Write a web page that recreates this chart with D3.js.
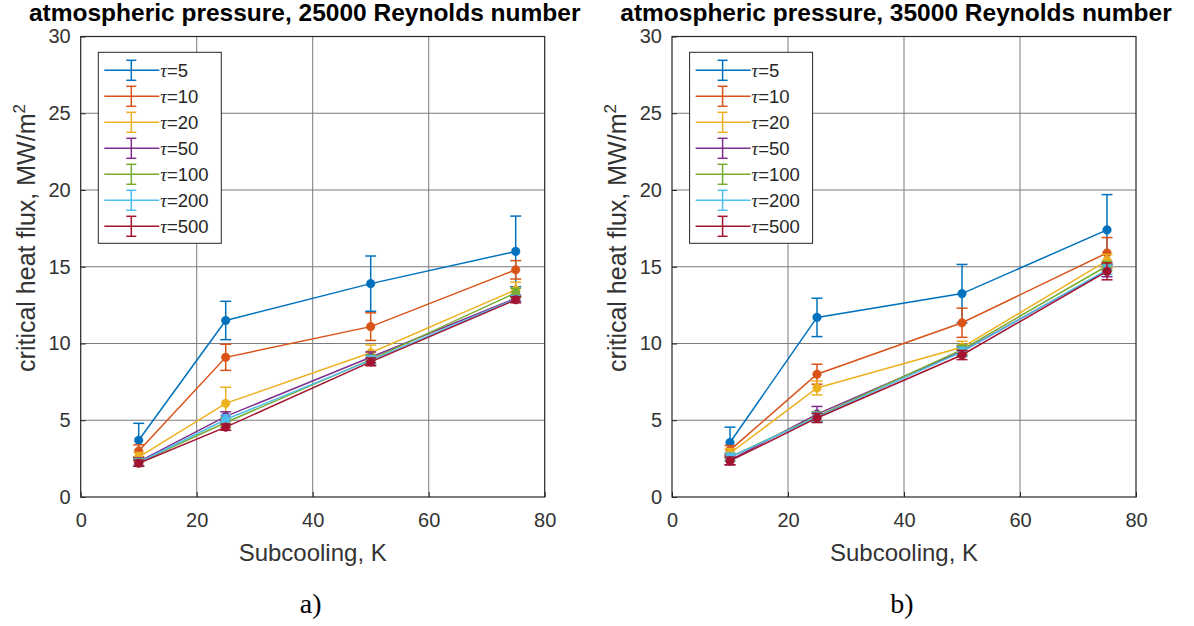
<!DOCTYPE html>
<html>
<head>
<meta charset="utf-8">
<script src="https://cdn.jsdelivr.net/npm/d3@7"></script>
<style>
  html, body { margin: 0; padding: 0; background: #fff; }
  svg { display: block; }
</style>
</head>
<body>
<svg id="chart" width="1194" height="626"></svg>
<script>
// ---- data ----
const subcooling = [10, 25, 50, 75];
const taus = [5, 10, 20, 50, 100, 200, 500];
const colors = ["#0072BD", "#D95319", "#EDB120", "#7E2F8E", "#77AC30", "#4DBEEE", "#A2142F"];
const xTicks = [0, 20, 40, 60, 80];
const yTicks = [0, 5, 10, 15, 20, 25, 30];

// panel a) Re = 25000
const chfA_tau5   = [3.7, 11.5, 13.9, 16.0];
const chfA_tau10  = [3.0, 9.1, 11.1, 14.8];
const chfA_tau20  = [2.6, 6.1, 9.4, 13.5];
const chfA_tau50  = [2.3, 5.25, 9.1, 12.95];
const chfA_tau100 = [2.25, 4.85, 8.95, 13.3];
const chfA_tau200 = [2.25, 5.05, 8.9, 12.9];
const chfA_tau500 = [2.2, 4.55, 8.8, 12.85];
const errA_tau5   = [1.1, 1.25, 1.8, 2.3];
const errA_tau10  = [0.4, 0.85, 0.9, 0.6];
const errA_tau20  = [0.3, 1.05, 0.5, 0.5];
const errA_tau50  = [0.25, 0.3, 0.35, 0.2];
const errA_tau100 = [0.25, 0.3, 0.3, 0.3];
const errA_tau200 = [0.2, 0.3, 0.3, 0.2];
const errA_tau500 = [0.2, 0.2, 0.25, 0.2];

// panel b) Re = 35000
const chfB_tau5   = [3.55, 11.7, 13.25, 17.4];
const chfB_tau10  = [3.05, 8.0, 11.35, 15.9];
const chfB_tau20  = [2.85, 7.1, 9.75, 15.4];
const chfB_tau50  = [2.4, 5.4, 9.5, 14.75];
const chfB_tau100 = [2.6, 5.25, 9.6, 15.05];
const chfB_tau200 = [2.6, 5.2, 9.45, 14.8];
const chfB_tau500 = [2.35, 5.15, 9.25, 14.7];
const errB_tau5   = [1.0, 1.25, 1.9, 2.3];
const errB_tau10  = [0.3, 0.65, 0.95, 1.0];
const errB_tau20  = [0.3, 0.45, 0.4, 0.4];
const errB_tau50  = [0.3, 0.5, 0.3, 0.4];
const errB_tau100 = [0.25, 0.3, 0.3, 0.3];
const errB_tau200 = [0.25, 0.3, 0.3, 0.3];
const errB_tau500 = [0.25, 0.3, 0.3, 0.55];

const titleA = "atmospheric pressure, 25000 Reynolds number";
const titleB = "atmospheric pressure, 35000 Reynolds number";
const xLabel = "Subcooling, K";
const yLabel = "critical heat flux, MW/m";

const panels = [
  { left: 80.7, title: titleA, letter: "a)",
    values: [chfA_tau5, chfA_tau10, chfA_tau20, chfA_tau50, chfA_tau100, chfA_tau200, chfA_tau500],
    errs: [errA_tau5, errA_tau10, errA_tau20, errA_tau50, errA_tau100, errA_tau200, errA_tau500] },
  { left: 672, title: titleB, letter: "b)",
    values: [chfB_tau5, chfB_tau10, chfB_tau20, chfB_tau50, chfB_tau100, chfB_tau200, chfB_tau500],
    errs: [errB_tau5, errB_tau10, errB_tau20, errB_tau50, errB_tau100, errB_tau200, errB_tau500] }
];

const svg = d3.select("#chart");
const W = 464, TOP = 36.5, BOTTOM = 497;
const FONT = "'Liberation Sans', Arial, Helvetica, sans-serif";
const axisColor = "#262626";

panels.forEach(p => {
  const x = d3.scaleLinear().domain([0, 80]).range([p.left, p.left + W]);
  const y = d3.scaleLinear().domain([0, 30]).range([BOTTOM, TOP]);
  const g = svg.append("g");

  // grid
  g.append("g").selectAll("line.gx").data(xTicks.slice(1, -1)).join("line")
    .attr("x1", d => x(d)).attr("x2", d => x(d))
    .attr("y1", TOP).attr("y2", BOTTOM)
    .attr("stroke", "#7a7a7a").attr("stroke-width", 1);
  g.append("g").selectAll("line.gy").data(yTicks.slice(1, -1)).join("line")
    .attr("x1", p.left).attr("x2", p.left + W)
    .attr("y1", d => y(d)).attr("y2", d => y(d))
    .attr("stroke", "#7a7a7a").attr("stroke-width", 1);

  // axes (d3 axes for ticks & labels)
  const xAxis = g.append("g").attr("transform", `translate(0,${BOTTOM})`)
    .call(d3.axisBottom(x).tickValues(xTicks).tickSize(-5).tickPadding(16));
  const yAxis = g.append("g").attr("transform", `translate(${p.left},0)`)
    .call(d3.axisLeft(y).tickValues(yTicks).tickSize(-5).tickPadding(10));
  [xAxis, yAxis].forEach(a => {
    a.select(".domain").remove();
    a.selectAll(".tick line").attr("stroke", axisColor);
    a.selectAll(".tick text").attr("fill", "#333").style("font-family", FONT).style("font-size", "20px");
  });

  // box
  g.append("rect").attr("x", p.left).attr("y", TOP).attr("width", W).attr("height", BOTTOM - TOP)
    .attr("fill", "none").attr("stroke", axisColor).attr("stroke-width", 1.2);

  // series
  const line = d3.line().x((d, i) => x(subcooling[i])).y(d => y(d));
  p.values.forEach((vals, s) => {
    const c = colors[s];
    const sg = g.append("g");
    sg.append("path").datum(vals).attr("d", line)
      .attr("fill", "none").attr("stroke", c).attr("stroke-width", 1.5);
    const errs = p.errs[s];
    const pts = vals.map((v, i) => ({ x: subcooling[i], v: v, e: errs[i] }));
    const eb = sg.selectAll("g.eb").data(pts).join("g");
    eb.append("line").attr("x1", d => x(d.x)).attr("x2", d => x(d.x))
      .attr("y1", d => y(d.v - d.e)).attr("y2", d => y(d.v + d.e))
      .attr("stroke", c).attr("stroke-width", 1.5);
    [1, -1].forEach(sign => {
      eb.append("line").attr("x1", d => x(d.x) - 5.5).attr("x2", d => x(d.x) + 5.5)
        .attr("y1", d => y(d.v + sign * d.e)).attr("y2", d => y(d.v + sign * d.e))
        .attr("stroke", c).attr("stroke-width", 1.5);
    });
    eb.append("circle").attr("cx", d => x(d.x)).attr("cy", d => y(d.v)).attr("r", 4.3)
      .attr("fill", c).attr("stroke", c).attr("stroke-width", 0.5);
  });

  // legend
  const lx = p.left + 17.6, ly = 52.3, lw = 123, lh = 191;
  const lg = g.append("g");
  lg.append("rect").attr("x", lx).attr("y", ly).attr("width", lw).attr("height", lh)
    .attr("fill", "#fff").attr("stroke", axisColor).attr("stroke-width", 1);
  taus.forEach((t, s) => {
    const cy = ly + 18 + s * 26;
    const c = colors[s];
    lg.append("line").attr("x1", lx + 6).attr("x2", lx + 61).attr("y1", cy).attr("y2", cy)
      .attr("stroke", c).attr("stroke-width", 1.5);
    lg.append("line").attr("x1", lx + 33).attr("x2", lx + 33).attr("y1", cy - 10).attr("y2", cy + 10)
      .attr("stroke", c).attr("stroke-width", 1.5);
    [-10, 10].forEach(o => lg.append("line").attr("x1", lx + 28).attr("x2", lx + 38)
      .attr("y1", cy + o).attr("y2", cy + o).attr("stroke", c).attr("stroke-width", 1.5));
    const tx = lg.append("text").attr("x", lx + 62).attr("y", cy + 7)
      .attr("fill", "#262626").style("font-family", FONT).style("font-size", "18.5px");
    tx.append("tspan").text("τ").style("font-family", "'Liberation Serif', 'DejaVu Serif', serif").style("font-style", "italic");
    tx.append("tspan").text("=" + t);
  });

  // title
  g.append("text").attr("x", p.left + W / 2 - 8).attr("y", 21).attr("text-anchor", "middle")
    .attr("fill", "#000").style("font-family", FONT).style("font-weight", "bold").style("font-size", "24.5px")
    .text(p.title);

  // x label
  g.append("text").attr("x", p.left + W / 2).attr("y", 561).attr("text-anchor", "middle")
    .attr("fill", "#333").style("font-family", FONT).style("font-size", "24px").text(xLabel);

  // y label
  const yl = g.append("text").attr("transform", `translate(${p.left - 46},238) rotate(-90)`)
    .attr("text-anchor", "middle").attr("fill", "#333")
    .style("font-family", FONT).style("font-size", "25px");
  yl.append("tspan").text(yLabel);
  yl.append("tspan").text("2").attr("dy", -10).style("font-size", "17px");

  // panel letter
  g.append("text").attr("x", p.left + W / 2 - 2).attr("y", 613).attr("text-anchor", "middle")
    .attr("fill", "#000").style("font-family", "'Liberation Serif', 'Times New Roman', serif")
    .style("font-size", "28px").text(p.letter);
});
</script>
</body>
</html>
